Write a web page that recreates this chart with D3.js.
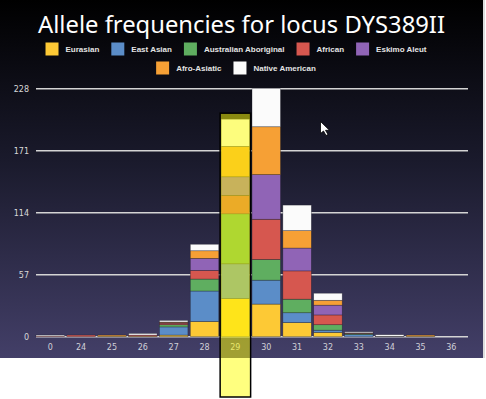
<!DOCTYPE html>
<html>
<head>
<meta charset="utf-8">
<script src="https://cdnjs.cloudflare.com/ajax/libs/d3/7.8.5/d3.min.js"></script>
<style>
  html, body { margin: 0; padding: 0; background: #fff; }
  svg { display: block; }
</style>
</head>
<body>
<div id="chart"></div>
<script>
(function(d3) {
  'use strict';

  // allele values (x categories)
  var categories = ['0', '24', '25', '26', '27', '28', '29', '30', '31', '32', '33', '34', '35', '36'];
  var yTicks = [0, 57, 114, 171, 228];

  // counts per population, bottom to top of each stack
  var eurasian             = [0,   0,   0.5, 0.5, 1.5, 14, 35, 30, 13,   4,   0,   0.3, 0.5, 0];
  var eastAsian            = [0,   0,   0,   0,   7.5, 28, 32, 22, 9,    2,   2,   0,   0,   0];
  var australianAboriginal = [0,   0,   0,   0,   2,   11, 46, 19, 12.5, 5,   1,   0,   0,   0];
  var african              = [0.5, 1.5, 0,   1,   1.5, 8,  17, 37, 26,   9,   0.5, 0,   0,   0];
  var eskimoAleut          = [0,   0,   0,   0,   0.5, 11, 17, 41, 21,   9,   0,   0,   0,   0];
  var afroAsiatic          = [0,   0,   1,   0,   0.5, 7,  28, 44, 16,   4.5, 0,   0,   1,   0];
  var nativeAmerican       = [1,   0,   0,   1.5, 1.5, 6,  25, 35, 23.5, 6.5, 1,   1.5, 0,   0];

  var seriesNames = ['Eurasian', 'East Asian', 'Australian Aboriginal', 'African',
                     'Eskimo Aleut', 'Afro-Asiatic', 'Native American'];
  var seriesValues = [eurasian, eastAsian, australianAboriginal, african,
                      eskimoAleut, afroAsiatic, nativeAmerican];
  var selected = '29';

  var width = 486;
  var height = 399;

  var color = d3.scaleOrdinal()
    .domain(seriesNames)
    .range(['#fdc935', '#5b8dc8', '#5fae60', '#d6574f', '#9064b6', '#f6a035', '#fbfbfb']);

  // rows for d3.stack
  var table = categories.map(function(c, i) {
    var row = { cat: c };
    seriesNames.forEach(function(s, j) { row[s] = seriesValues[j][i]; });
    return row;
  });
  var stacked = d3.stack().keys(seriesNames)(table);

  var x = d3.scaleBand()
    .domain(categories)
    .range([36, 468])
    .paddingInner(0.077)
    .paddingOuter(0.0385)
    .align(0);

  var y = d3.scaleLinear()
    .domain([0, 228])
    .range([336.7, 88.7]);

  var svg = d3.select('#chart')
    .append('svg')
    .attr('width', width)
    .attr('height', height);

  var defs = svg.append('defs');
  var grad = defs.append('linearGradient')
    .attr('id', 'bg')
    .attr('x1', 0).attr('y1', 0).attr('x2', 0).attr('y2', 1);
  grad.append('stop').attr('offset', '0%').attr('stop-color', '#000000');
  grad.append('stop').attr('offset', '45%').attr('stop-color', '#1a1a2c');
  grad.append('stop').attr('offset', '100%').attr('stop-color', '#433f68');

  svg.append('rect')
    .attr('width', width).attr('height', height)
    .attr('fill', '#fff');
  svg.append('rect')
    .attr('width', 483).attr('height', 358)
    .attr('fill', 'url(#bg)');
  svg.append('line')
    .attr('x1', 484).attr('x2', 484).attr('y1', 0).attr('y2', 358)
    .attr('stroke', '#bbb').attr('stroke-width', 1);

  // title
  svg.append('text')
    .attr('x', 241.5)
    .attr('y', 33)
    .attr('text-anchor', 'middle')
    .attr('fill', '#fff')
    .attr('font-family', '"Noto Sans", "DejaVu Sans", sans-serif')
    .attr('font-size', 24)
    .attr('textLength', 407)
    .attr('lengthAdjust', 'spacingAndGlyphs')
    .text('Allele frequencies for locus DYS389II');

  // legend, two centred rows
  var legendRows = [seriesNames.slice(0, 5), seriesNames.slice(5)];
  var legendRectSize = 13;
  var legendSpacing = 7;
  var legendGap = 12;
  legendRows.forEach(function(names, r) {
    var row = svg.append('g');
    var cx = 0;
    names.forEach(function(name) {
      var item = row.append('g').attr('transform', 'translate(' + cx + ',0)');
      item.append('rect')
        .attr('width', legendRectSize)
        .attr('height', legendRectSize)
        .attr('y', -legendRectSize / 2)
        .attr('fill', color(name));
      var t = item.append('text')
        .attr('x', legendRectSize + legendSpacing)
        .attr('y', 3)
        .attr('fill', '#e4e4e4')
        .attr('font-family', '"Liberation Sans", Arial, sans-serif')
        .attr('font-size', 8)
        .attr('font-weight', 'bold')
        .text(name);
      cx += legendRectSize + legendSpacing + t.node().getComputedTextLength() + legendGap;
    });
    var rowWidth = cx - legendGap;
    row.attr('transform', 'translate(' + (236 - rowWidth / 2) + ',' + (49 + r * 19) + ')');
  });

  // grid lines + y labels
  var grid = svg.append('g');
  grid.selectAll('line')
    .data(yTicks)
    .enter()
    .append('line')
    .attr('x1', 36).attr('x2', 468)
    .attr('y1', function(d) { return y(d); })
    .attr('y2', function(d) { return y(d); })
    .attr('stroke', '#d4d4d4')
    .attr('stroke-width', 1.5);
  grid.selectAll('text')
    .data(yTicks)
    .enter()
    .append('text')
    .attr('x', 29)
    .attr('y', function(d) { return y(d) + 3; })
    .attr('text-anchor', 'end')
    .attr('fill', '#d8d8d8')
    .attr('font-family', '"DejaVu Sans", sans-serif')
    .attr('font-size', 8)
    .text(function(d) { return d; });

  // stacked bars
  svg.append('g')
    .selectAll('g')
    .data(stacked)
    .enter()
    .append('g')
    .attr('fill', function(d) { return color(d.key); })
    .selectAll('rect')
    .data(function(d) { return d.filter(function(p) { return p[1] - p[0] > 0; }); })
    .enter()
    .append('rect')
    .attr('x', function(d) { return x(d.data.cat); })
    .attr('width', x.bandwidth())
    .attr('y', function(d) { return y(d[1]); })
    .attr('height', function(d) { return y(d[0]) - y(d[1]); })
    .attr('stroke', 'rgba(30,30,40,0.55)')
    .attr('stroke-width', 0.6);

  // x labels
  svg.append('g')
    .selectAll('text')
    .data(categories)
    .enter()
    .append('text')
    .attr('x', function(d) { return x(d) + x.bandwidth() / 2; })
    .attr('y', 350)
    .attr('text-anchor', 'middle')
    .attr('fill', '#d0d0d8')
    .attr('font-family', '"DejaVu Sans", sans-serif')
    .attr('font-size', 8)
    .text(function(d) { return d; });

  // selection highlight on the chosen allele
  var selTotal = d3.sum(seriesValues, function(s) { return s[categories.indexOf(selected)]; });
  svg.append('rect')
    .attr('x', x(selected) - 1)
    .attr('width', x.bandwidth() + 2)
    .attr('y', y(selTotal) - 6)
    .attr('height', height - 2 - (y(selTotal) - 6))
    .attr('fill', '#ffff00')
    .attr('fill-opacity', 0.5)
    .attr('stroke', '#000')
    .attr('stroke-width', 1.5);

  // mouse pointer
  svg.append('path')
    .attr('transform', 'translate(320.5,121.5)')
    .attr('d', 'M0,0 L0,12 L3,9.5 L5.5,14 L7.5,13 L5,8.8 L9,8.8 Z')
    .attr('fill', '#fff')
    .attr('stroke', '#000')
    .attr('stroke-width', 0.8);

})(window.d3);
</script>
</body>
</html>
